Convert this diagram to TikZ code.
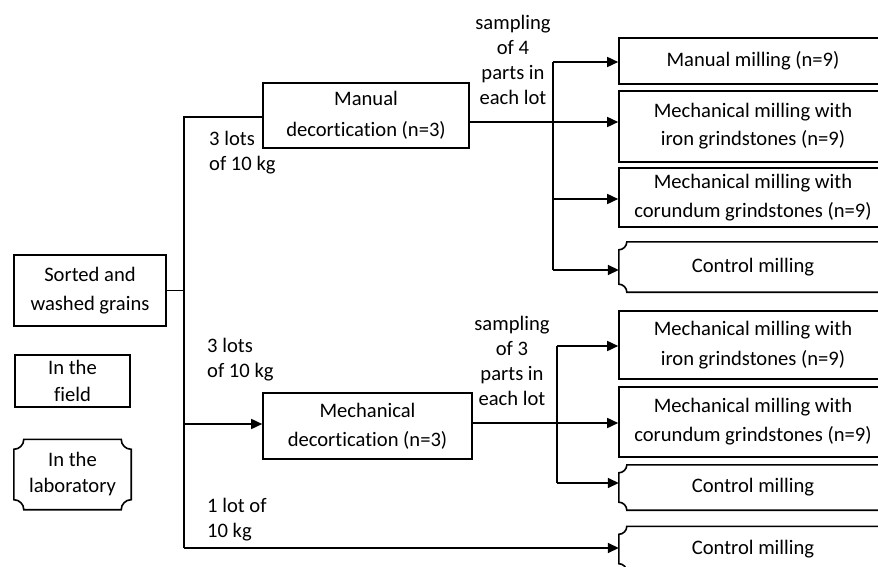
\documentclass[tikz,border=0pt]{standalone}
\usepackage{fontspec}
\setmainfont{Carlito}[Ligatures=NoCommon]
\usetikzlibrary{arrows.meta,calc}
\newcommand\plaqueline[2]{%
 \draw[outline] ([yshift=-#2]#1.north west) .. controls +(0.552*#2,0pt) and +(0pt,-0.552*#2) .. ([xshift=#2]#1.north west)
   -- ([xshift=-#2]#1.north east) .. controls +(0pt,-0.552*#2) and +(-0.552*#2,0pt) .. ([yshift=-#2]#1.north east)
   -- ([yshift=#2]#1.south east) .. controls +(-0.552*#2,0pt) and +(0pt,0.552*#2) .. ([xshift=-#2]#1.south east)
   -- ([xshift=#2]#1.south west) .. controls +(0pt,0.552*#2) and +(0.552*#2,0pt) .. ([yshift=#2]#1.south west) -- cycle;}
\begin{document}
\begin{tikzpicture}[x=1pt,y=-1pt,
  every node/.style={font=\fontsize{20.6}{25}\selectfont, inner sep=0pt},
  box/.style={draw, line width=1.6pt, align=center, font=\fontsize{20.6}{29}\selectfont},
  plq/.style={align=center, font=\fontsize{20.6}{26}\selectfont},
  lbl/.style={align=left, anchor=west},
  smp/.style={align=center},
  conn/.style={line width=1.6pt},
  arr/.style={conn, -{Triangle[length=11pt,width=10pt]}},
  outline/.style={line width=1.6pt}]
\useasboundingbox (0,0) rectangle (878,567);
\clip (0,0) rectangle (878,567);
% left column
\node[box, minimum width=152pt, minimum height=71pt] (sorted) at (90,290.5) {Sorted and\\washed grains};
\node[box, minimum width=115pt, minimum height=52pt, font=\fontsize{20.6}{27}\selectfont] (field) at (72.5,381) {In the\\field};
\node[plq, minimum width=117pt, minimum height=70pt] (lab) at (72.5,474.5) {In the\\laboratory};
\plaqueline{lab}{10pt}
% decortication
\node[box, minimum width=206pt, minimum height=65pt, font=\fontsize{20.6}{31}\selectfont] (manual) at (366,115.5) {Manual\\decortication (n=3)};
\node[box, minimum width=209pt, minimum height=66pt] (mech) at (367.5,426) {Mechanical\\decortication (n=3)};
% right column
\node[box, minimum width=268pt, minimum height=46pt] (r1) at (753,61) {Manual milling (n=9)};
\node[box, minimum width=268pt, minimum height=71pt, font=\fontsize{20.6}{28}\selectfont] (r2) at (753,126.5) {Mechanical milling with\\iron grindstones (n=9)};
\node[box, minimum width=268pt, minimum height=59pt] (r3) at (753,197.5) {Mechanical milling with\\corundum grindstones (n=9)};
\node[plq, minimum width=268pt, minimum height=50pt] (c1) at (753,267) {Control milling};
\plaqueline{c1}{8pt}
\node[box, minimum width=268pt, minimum height=68pt, font=\fontsize{20.6}{30}\selectfont] (r4) at (753,345) {Mechanical milling with\\iron grindstones (n=9)};
\node[box, minimum width=268pt, minimum height=70pt] (r5) at (753,422) {Mechanical milling with\\corundum grindstones (n=9)};
\node[plq, minimum width=268pt, minimum height=45pt] (c2) at (753,487.5) {Control milling};
\plaqueline{c2}{8pt}
\node[plq, minimum width=268pt, minimum height=45pt] (c3) at (753,549) {Control milling};
\plaqueline{c3}{8pt}
% labels
\node[lbl] (lot1) at (209,153) {3 lots\\of 10 kg};
\node[lbl] (lot2) at (207,359.5) {3 lots\\of 10 kg};
\node[lbl] (lot3) at (207,519.5) {1 lot of\\10 kg};
\node[smp] (s1) at (513,59.5) {sampling\\of 4\\parts in\\each lot};
\node[smp] (s2) at (512,361) {sampling\\of 3\\parts in\\each lot};
% trunk
\coordinate (vt) at (184,117);
\coordinate (vm) at (184,424);
\coordinate (vb) at (184,548);
\draw[conn] (sorted.east) -- (sorted.east -| vt);
\draw[conn] (vt -| manual.west) -- (vt) -- (vb);
\draw[arr] (vb) -- (vb -| c3.west);
\draw[arr] (vm) -- (vm -| mech.west);
% upper branch
\coordinate (b1a) at (553,62);
\coordinate (b1b) at (553,122);
\coordinate (b1c) at (553,199);
\coordinate (b1d) at (553,270);
\draw[arr] (manual.east |- b1b) -- (b1b -| r2.west);
\draw[conn] (b1a) -- (b1d);
\draw[arr] (b1a) -- (b1a -| r1.west);
\draw[arr] (b1c) -- (b1c -| r3.west);
\draw[arr] (b1d) -- (b1d -| c1.west);
% lower branch
\coordinate (b2a) at (557,346);
\coordinate (b2b) at (557,423);
\coordinate (b2c) at (557,483);
\draw[arr] (mech.east |- b2b) -- (b2b -| r5.west);
\draw[conn] (b2a) -- (b2c);
\draw[arr] (b2a) -- (b2a -| r4.west);
\draw[arr] (b2c) -- (b2c -| c2.west);
\end{tikzpicture}
\end{document}
